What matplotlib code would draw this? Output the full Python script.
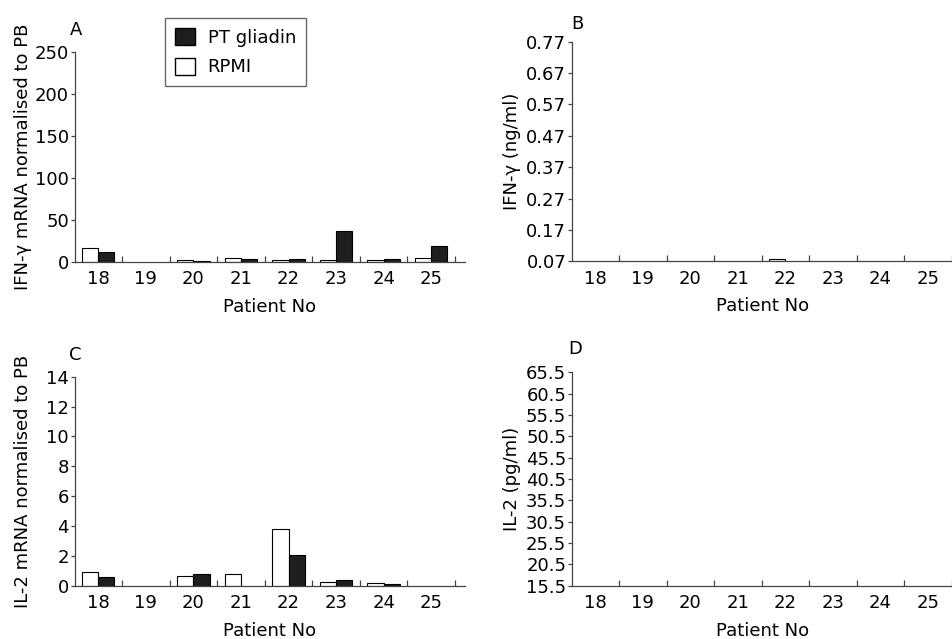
import numpy as np
import matplotlib.pyplot as plt
from matplotlib.patches import Patch

# patient numbers on the x axis
patients = ['18', '19', '20', '21', '22', '23', '24', '25']

# A: IFN-gamma mRNA normalised to PB
ifn_mrna_rpmi = [17, 0, 2, 5, 2, 2, 2, 5]
ifn_mrna_gliadin = [12, 0, 1, 3, 4, 37, 4, 19]

# B: IFN-gamma protein (ng/ml), only one small value above baseline
ifn_prot_rpmi = [0, 0, 0, 0, 0.077, 0, 0, 0]
ifn_prot_gliadin = [0, 0, 0, 0, 0, 0, 0, 0]

# C: IL-2 mRNA normalised to PB
il2_mrna_rpmi = [0.9, 0, 0.67, 0.76, 3.8, 0.27, 0.16, 0]
il2_mrna_gliadin = [0.6, 0, 0.76, 0, 2.08, 0.38, 0.11, 0]

# D: IL-2 protein (pg/ml), nothing above baseline
il2_prot_rpmi = [0, 0, 0, 0, 0, 0, 0, 0]
il2_prot_gliadin = [0, 0, 0, 0, 0, 0, 0, 0]

ifn_ticks = [0, 50, 100, 150, 200, 250]
ifn_prot_ticks = [0.07, 0.17, 0.27, 0.37, 0.47, 0.57, 0.67, 0.77]
il2_ticks = [0, 2, 4, 6, 8, 10, 12, 14]
il2_prot_ticks = [15.5, 20.5, 25.5, 30.5, 35.5, 40.5, 45.5, 50.5, 55.5, 60.5, 65.5]

FS = 13
SPINE = '#444444'
BLACK = '#1e1e1e'

plt.rcParams['font.family'] = ['DejaVu Sans']


def draw_panel(ax, rpmi, gliadin, yticks, ylabel, letter, xmax, base, fmt,
               label_x, letter_xy):
    """ bars for one panel, with the journal style axes """
    x = np.arange(len(patients))
    w = 0.34
    r = np.array(rpmi, dtype=float)
    g = np.array(gliadin, dtype=float)
    # only draw bars that are above the baseline
    mr = r > base
    mg = g > base
    ax.bar(x[mr] - w / 2, r[mr] - base, width=w, bottom=base, color='white',
           edgecolor='black', linewidth=0.8)
    ax.bar(x[mg] + w / 2, g[mg] - base, width=w, bottom=base, color=BLACK,
           edgecolor='black', linewidth=0.8)

    ax.set_xlim(-0.5, xmax)
    ax.set_ylim(yticks[0], yticks[-1])
    ax.set_yticks(yticks)
    ax.set_yticklabels([fmt.format(t) for t in yticks], fontsize=FS)

    # boundary ticks pointing up, labels at the category centres
    ax.set_xticks(np.arange(0.5, len(patients) - 0.4, 1.0))
    ax.set_xticklabels([])
    ax.set_xticks(x, minor=True)
    ax.set_xticklabels(patients, minor=True, fontsize=FS)
    ax.tick_params(axis='x', which='major', direction='in', length=4,
                   color=SPINE, width=0.9)
    ax.tick_params(axis='x', which='minor', length=0, pad=6)
    ax.tick_params(axis='y', direction='out', length=3, color=SPINE,
                   width=0.9, pad=1)

    for side in ['top', 'right']:
        ax.spines[side].set_visible(False)
    for side in ['left', 'bottom']:
        ax.spines[side].set_color(SPINE)
        ax.spines[side].set_linewidth(0.9)

    ax.set_xlabel('Patient No', fontsize=FS, labelpad=7)
    ax.set_ylabel(ylabel, fontsize=FS, va='center')
    ax.yaxis.set_label_coords(label_x, 0.5)
    ax.text(letter_xy[0], letter_xy[1], letter, transform=ax.transAxes,
            fontsize=FS, ha='left', va='bottom')


fig = plt.figure(figsize=(9.53, 6.39), dpi=100)

axA = fig.add_axes([0.0782, 0.590, 0.4097, 0.3286])
axB = fig.add_axes([0.5999, 0.5911, 0.3996, 0.3437])
axC = fig.add_axes([0.0782, 0.0834, 0.4097, 0.3271])
axD = fig.add_axes([0.5999, 0.0834, 0.3996, 0.3340])

draw_panel(axA, ifn_mrna_rpmi, ifn_mrna_gliadin, ifn_ticks,
           'IFN-γ mRNA normalised to PB', 'A', 7.71, 0, '{:g}',
           -0.131, (-0.012, 1.06))
draw_panel(axB, ifn_prot_rpmi, ifn_prot_gliadin, ifn_prot_ticks,
           'IFN-γ (ng/ml)', 'B', 7.52, 0.07, '{:.2f}',
           -0.158, (0.0, 1.04))
draw_panel(axC, il2_mrna_rpmi, il2_mrna_gliadin, il2_ticks,
           'IL-2 mRNA normalised to PB', 'C', 7.71, 0, '{:g}',
           -0.131, (-0.015, 1.06))
draw_panel(axD, il2_prot_rpmi, il2_prot_gliadin, il2_prot_ticks,
           'IL-2 (pg/ml)', 'D', 7.52, 15.5, '{:.1f}',
           -0.158, (-0.01, 1.065))

handles = [Patch(facecolor=BLACK, edgecolor='black', label='PT gliadin'),
           Patch(facecolor='white', edgecolor='black', label='RPMI')]
axA.legend(handles=handles, loc='upper left', bbox_to_anchor=(0.232, 1.162),
           borderaxespad=0, fontsize=FS, frameon=True, fancybox=False,
           edgecolor=SPINE, handlelength=1.1, handleheight=1.1, borderpad=0.55,
           labelspacing=0.6, handletextpad=0.7)

plt.savefig('out.png', dpi=100)
